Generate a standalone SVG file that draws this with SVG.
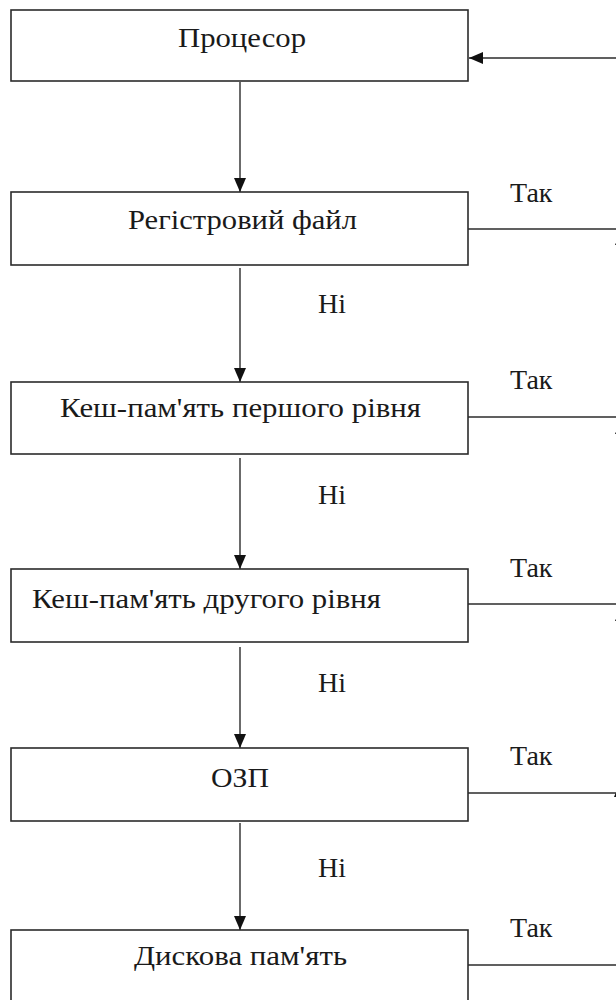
<svg xmlns="http://www.w3.org/2000/svg" width="616" height="1000" viewBox="0 0 616 1000">
<style>
.box{fill:#fff;stroke:#2b2b2b;stroke-width:1.6}
.ln{stroke:#2b2b2b;stroke-width:1.4;fill:none}
.ah{fill:#111}
</style>
<defs>
<marker id="arr" viewBox="0 0 14 14" refX="14" refY="7" markerWidth="14" markerHeight="14" markerUnits="userSpaceOnUse" orient="auto">
<path d="M0,1 L14,7 L0,13 Z" fill="#111"/>
</marker>
</defs>
<rect width="616" height="1000" fill="#fff"/>
<g id="connectors">
<line class="ln" x1="616" y1="58" x2="469" y2="58" marker-end="url(#arr)"/>
<line class="ln" x1="240" y1="82" x2="240" y2="192" marker-end="url(#arr)"/>
<line class="ln" x1="240" y1="268" x2="240" y2="382" marker-end="url(#arr)"/>
<line class="ln" x1="240" y1="458" x2="240" y2="569" marker-end="url(#arr)"/>
<line class="ln" x1="240" y1="647" x2="240" y2="748" marker-end="url(#arr)"/>
<line class="ln" x1="240" y1="823" x2="240" y2="930" marker-end="url(#arr)"/>
<line class="ln" x1="468" y1="229" x2="616" y2="229"/>
<line class="ln" x1="468" y1="417" x2="616" y2="417"/>
<line class="ln" x1="468" y1="604" x2="616" y2="604"/>
<line class="ln" x1="468" y1="793" x2="616" y2="793"/>
<line class="ln" x1="468" y1="965" x2="616" y2="965"/>
<polygon class="ah" points="621,231 615,245 627,245"/>
<polygon class="ah" points="621,420 615,434 627,434"/>
<polygon class="ah" points="621,607 615,621 627,621"/>
<polygon class="ah" points="620,783 614,797 626,797"/>
<text x="318" y="313" font-family="Liberation Serif" font-size="28" fill="#1a1a1a">Ні</text>
<text x="318" y="504" font-family="Liberation Serif" font-size="28" fill="#1a1a1a">Ні</text>
<text x="318" y="692" font-family="Liberation Serif" font-size="28" fill="#1a1a1a">Ні</text>
<text x="318" y="877" font-family="Liberation Serif" font-size="28" fill="#1a1a1a">Ні</text>
<text x="510" y="202" font-family="Liberation Serif" font-size="28" fill="#1a1a1a">Так</text>
<text x="510" y="389" font-family="Liberation Serif" font-size="28" fill="#1a1a1a">Так</text>
<text x="510" y="577" font-family="Liberation Serif" font-size="28" fill="#1a1a1a">Так</text>
<text x="510" y="765" font-family="Liberation Serif" font-size="28" fill="#1a1a1a">Так</text>
<text x="510" y="937" font-family="Liberation Serif" font-size="28" fill="#1a1a1a">Так</text>
</g>
<g id="n-processor">
<rect class="box" x="11" y="10" width="457" height="71"/>
<text x="178" y="47" font-family="Liberation Serif" font-size="28" fill="#1a1a1a" textLength="128" lengthAdjust="spacingAndGlyphs">Процесор</text>
</g>
<g id="n-registers">
<rect class="box" x="11" y="192" width="457" height="73"/>
<text x="128" y="229" font-family="Liberation Serif" font-size="28" fill="#1a1a1a" textLength="229" lengthAdjust="spacingAndGlyphs">Регістровий файл</text>
</g>
<g id="n-l1">
<rect class="box" x="11" y="382" width="457" height="72"/>
<text x="60" y="417" font-family="Liberation Serif" font-size="28" fill="#1a1a1a" textLength="361" lengthAdjust="spacingAndGlyphs">Кеш-пам'ять першого рівня</text>
</g>
<g id="n-l2">
<rect class="box" x="11" y="569" width="457" height="73"/>
<text x="32" y="608" font-family="Liberation Serif" font-size="28" fill="#1a1a1a" textLength="349" lengthAdjust="spacingAndGlyphs">Кеш-пам'ять другого рівня</text>
</g>
<g id="n-ram">
<rect class="box" x="11" y="748" width="457" height="73"/>
<text x="211" y="787" font-family="Liberation Serif" font-size="28" fill="#1a1a1a" textLength="58" lengthAdjust="spacingAndGlyphs">ОЗП</text>
</g>
<g id="n-disk">
<rect class="box" x="11" y="930" width="457" height="90"/>
<text x="134" y="965" font-family="Liberation Serif" font-size="28" fill="#1a1a1a" textLength="213" lengthAdjust="spacingAndGlyphs">Дискова пам'ять</text>
</g>
</svg>
